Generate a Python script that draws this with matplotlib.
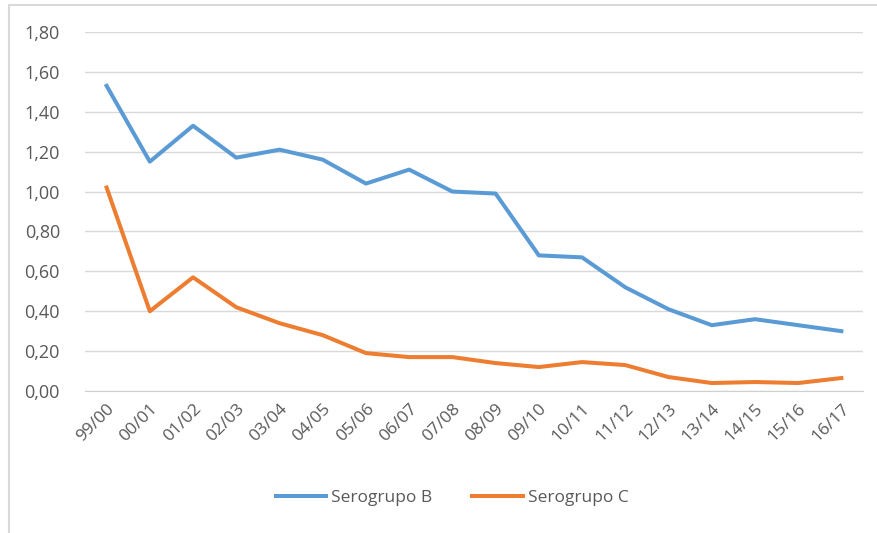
import matplotlib.pyplot as plt
from matplotlib.patches import Rectangle

temporadas = ['99/00', '00/01', '01/02', '02/03', '03/04', '04/05', '05/06', '06/07', '07/08',
              '08/09', '09/10', '10/11', '11/12', '12/13', '13/14', '14/15', '15/16', '16/17']
serogrupo_b = [1.53, 1.15, 1.33, 1.17, 1.21, 1.16, 1.04, 1.11, 1.00,
               0.99, 0.68, 0.67, 0.52, 0.41, 0.33, 0.36, 0.33, 0.30]
serogrupo_c = [1.02, 0.40, 0.57, 0.42, 0.34, 0.28, 0.19, 0.17, 0.17,
               0.14, 0.12, 0.145, 0.13, 0.07, 0.04, 0.045, 0.04, 0.065]
yticks = [0.0, 0.2, 0.4, 0.6, 0.8, 1.0, 1.2, 1.4, 1.6, 1.8]

plt.rcParams['font.family'] = ['Open Sans', 'DejaVu Sans']
gris = '#595959'

fig = plt.figure(figsize=(8.78, 5.33), dpi=100)
fig.patches.append(Rectangle((9 / 878, -0.1), 1.2, 1 - 5 / 533 + 0.1, transform=fig.transFigure,
                             fill=False, edgecolor='#d9d9d9', lw=1.5))
ax = fig.add_axes([85 / 878, 1 - 391 / 533, (863 - 85) / 878, (391 - 32) / 533])

x = list(range(len(temporadas)))
ax.plot(x, serogrupo_b, color='#5B9BD5', lw=2.9, label='Serogrupo B', solid_joinstyle='round')
ax.plot(x, serogrupo_c, color='#ED7D31', lw=2.9, label='Serogrupo C', solid_joinstyle='round')

ax.set_xlim(-0.5, len(temporadas) - 0.5)
ax.set_ylim(0, 1.8)
ax.set_yticks(yticks)
ax.set_yticklabels([f'{v:.2f}'.replace('.', ',') for v in yticks], fontsize=13, color=gris)
ax.set_xticks(x)
ax.set_xticklabels(temporadas, rotation=45, ha='right', rotation_mode='anchor',
                   fontsize=12.5, color=gris)
ax.tick_params(length=0, pad=18)
ax.tick_params(axis='x', pad=7)
ax.grid(axis='y', color='#d9d9d9', lw=1)
ax.set_axisbelow(True)
for s in ['top', 'right', 'left']:
    ax.spines[s].set_visible(False)
ax.spines['bottom'].set_color('#d0d0d0')

fig.legend(loc='center', bbox_to_anchor=(0.515, 1 - 498 / 533), ncol=2, frameon=False,
           fontsize=12.5, labelcolor=gris, handlelength=2.9, columnspacing=2.3, handletextpad=0.3)

fig.savefig('out.png')
